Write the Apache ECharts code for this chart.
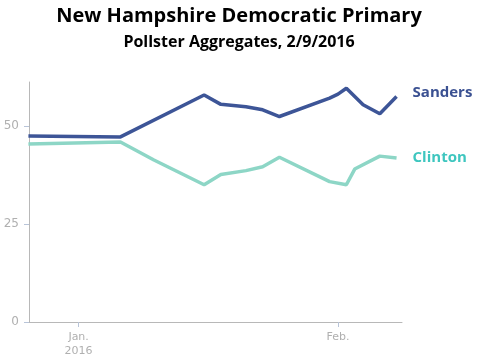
<!DOCTYPE html>
<html><head><meta charset="utf-8">
<script src="https://cdn.jsdelivr.net/npm/echarts@6/dist/echarts.min.js"></script>
<style>html,body{margin:0;padding:0;background:#fff}#c{width:478px;height:362px}</style>
</head><body><div id="c"></div>
<script>
var sandersDates = ['2015-12-26','2016-01-06','2016-01-16','2016-01-18','2016-01-21','2016-01-23','2016-01-25','2016-01-31','2016-02-01','2016-02-02','2016-02-04','2016-02-06','2016-02-08'];
var sandersValues = [47.4,47.2,57.9,55.5,54.9,54.1,52.4,57.1,58.1,59.6,55.4,53.1,57.5];
var clintonDates = ['2015-12-26','2016-01-06','2016-01-10','2016-01-16','2016-01-18','2016-01-21','2016-01-23','2016-01-25','2016-01-31','2016-02-02','2016-02-03','2016-02-06','2016-02-08'];
var clintonValues = [45.4,45.9,41.3,35.0,37.6,38.6,39.6,42.0,35.8,35.0,39.0,42.3,41.8];
var yTicks = [0,25,50];
var xTickDates = ['2016-01-01','2016-02-01'];
var xTickLabels = ['Jan.\n2016','Feb.'];

var base = Date.UTC(2016,0,1);
function dayOf(s){var p=s.split('-');return (Date.UTC(+p[0],+p[1]-1,+p[2])-base)/86400000;}
function pairs(d,v){return d.map(function(x,i){return [dayOf(x),v[i]];});}
var xTickVals = xTickDates.map(dayOf);

var chart = echarts.init(document.getElementById('c'));
chart.setOption({
  animation:false,
  title:[{text:'New Hampshire Democratic Primary',left:'center',top:1,textStyle:{fontFamily:'Open Sans',fontWeight:'bold',fontSize:20,color:'#000'}},
         {text:'Pollster Aggregates, 2/9/2016',left:'center',top:29,textStyle:{fontFamily:'Open Sans',fontWeight:'bold',fontSize:16,color:'#000'}}],
  grid:{left:29,right:76,top:82,bottom:40},
  xAxis:{type:'value',min:-5.93,max:38.65,
    axisLine:{onZero:false,lineStyle:{color:'#b8b8b8',width:1}},
    axisTick:{customValues:xTickVals,length:5,lineStyle:{color:'#b8c4d8'}},
    axisLabel:{customValues:xTickVals,color:'#b0b0b0',fontFamily:'DejaVu Sans',fontSize:11,lineHeight:14,
      formatter:function(v){var i=xTickVals.indexOf(v);return i>=0?xTickLabels[i]:'';}},
    splitLine:{show:false}},
  yAxis:{type:'value',min:0,max:61.2,
    axisLine:{show:true,onZero:false,lineStyle:{color:'#b8b8b8',width:1}},
    axisTick:{show:true,customValues:yTicks,length:5,lineStyle:{color:'#b8c4d8'}},
    axisLabel:{customValues:yTicks,color:'#b0b0b0',fontFamily:'DejaVu Sans',fontSize:12,margin:10},
    splitLine:{show:false}},
  series:[
    {name:'Sanders',type:'line',data:pairs(sandersDates,sandersValues),showSymbol:false,lineStyle:{color:'#3d5597',width:3.5},
     endLabel:{show:true,formatter:'Sanders',color:'#3b5192',fontFamily:'Open Sans',fontWeight:'bold',fontSize:15,offset:[8,-4]}},
    {name:'Clinton',type:'line',data:pairs(clintonDates,clintonValues),showSymbol:false,lineStyle:{color:'#8dd6c6',width:3.5},
     endLabel:{show:true,formatter:'Clinton',color:'#3ec6bf',fontFamily:'Open Sans',fontWeight:'bold',fontSize:15,offset:[8,0]}}
  ]
});
</script></body></html>
